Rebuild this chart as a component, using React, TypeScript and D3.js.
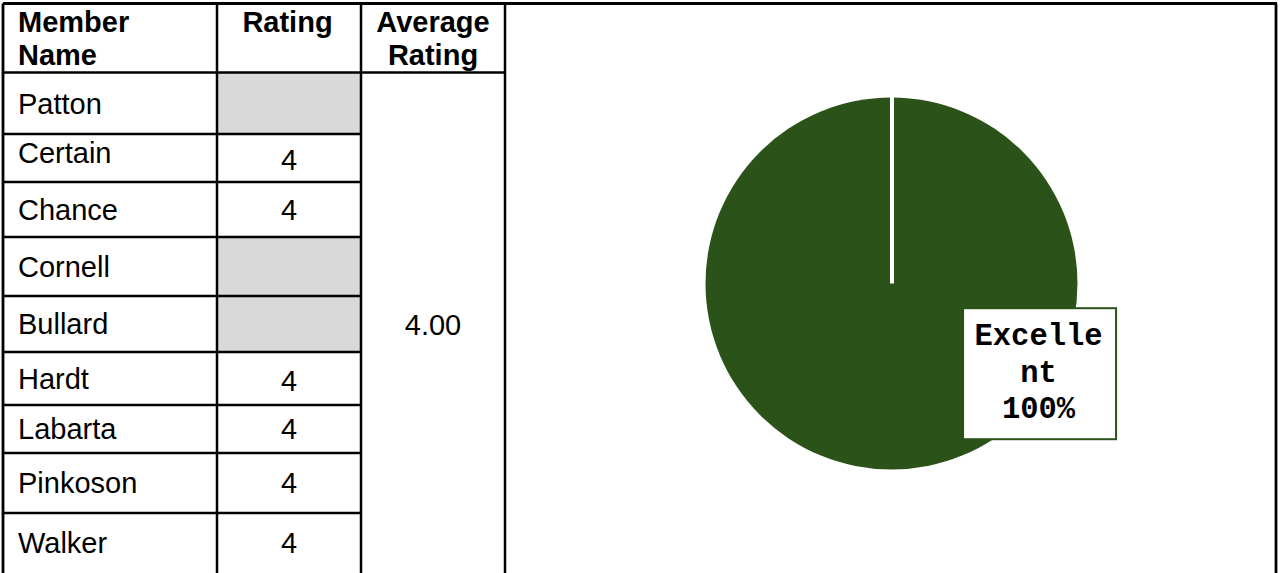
import React from "react";
import * as d3 from "d3";

// Table content
const members = ["Patton", "Certain", "Chance", "Cornell", "Bullard", "Hardt", "Labarta", "Pinkoson", "Walker"];
const ratings: (number | null)[] = [null, 4, 4, null, null, 4, 4, 4, 4];
const headers = [["Member", "Name"], ["Rating"], ["Average", "Rating"]];

// Pie content
const ratingCategories = ["Excellent"];
const categoryShares = [100];

// Layout
const W = 1281;
const H = 573;
const colX = [3, 217, 361, 505, 1276];
const headerTop = 3.5;
const rowEdges = [72.5, 134, 182, 237, 296, 352, 405, 453, 513, 600];
const nameShift = [0, -5, 0, 0, 0, 0, 0, 0, 0];
const valueShift = [0, 2, 0, 0, 0, 2, 0, 0, 0];
const FONT = "'Liberation Sans', Arial, Helvetica, sans-serif";
const MONO = "'Courier New', 'Liberation Mono', Courier, monospace";
const GREEN = "#2b5219";

function wrapChunks(s: string, n: number): string[] {
  const out: string[] = [];
  for (let i = 0; i < s.length; i += n) out.push(s.slice(i, i + n));
  return out;
}

export default function App() {
  const rated = ratings.filter((r): r is number => r != null);
  const avg = d3.mean(rated) ?? 0;

  const rowMid = (i: number) => {
    const bottom = Math.min(rowEdges[i + 1], H);
    return (rowEdges[i] + bottom) / 2;
  };

  // Pie geometry
  const cx = 891.5;
  const cy = 283.5;
  const r = 186;
  const pie = d3.pie<number>().sort(null).value((d) => d);
  const arcs = pie(categoryShares);
  const arcGen = d3.arc<d3.PieArcDatum<number>>().innerRadius(0).outerRadius(r);
  const total = d3.sum(categoryShares);

  const boxW = 153;
  const boxH = 131;
  const boxCx = cx + r * 0.796;
  const boxCy = cy + r * 0.485;

  const lineColor = "#000";

  return (
    <div style={{ position: "absolute", left: 0, top: 0 }}>
      <svg width={W} height={H} style={{ display: "block", background: "#fff" }}>
        {/* grey cells for missing ratings */}
        {ratings.map((v, i) =>
          v == null ? (
            <rect
              key={"g" + i}
              x={colX[1]}
              y={rowEdges[i]}
              width={colX[2] - colX[1]}
              height={rowEdges[i + 1] - rowEdges[i]}
              fill="#d9d9d9"
            />
          ) : null
        )}

        {/* grid lines */}
        <g stroke={lineColor} strokeWidth={2.5} fill="none">
          <line x1={colX[0]} x2={colX[4] + 1} y1={headerTop} y2={headerTop} strokeWidth={2.8} />
          {colX.map((x, i) => (
            <line key={"v" + i} x1={x} x2={x} y1={headerTop} y2={H} strokeWidth={i === 0 || i === 4 ? 2.8 : 2.5} />
          ))}
          <line x1={colX[0]} x2={colX[3]} y1={rowEdges[0]} y2={rowEdges[0]} />
          {rowEdges.slice(1, -1).map((y, i) => (
            <line key={"h" + i} x1={colX[0]} x2={colX[2]} y1={y} y2={y} />
          ))}
        </g>

        {/* headers */}
        <g fontFamily={FONT} fontWeight="bold" fontSize={29} fill="#000">
          {headers.map((lines, c) =>
            lines.map((t, k) => (
              <text
                key={c + "-" + k}
                x={c === 0 ? 18 : (colX[c] + colX[c + 1]) / 2 - (c === 1 ? 1.5 : 0)}
                y={31.5 + k * 33.5}
                textAnchor={c === 0 ? "start" : "middle"}
              >
                {t}
              </text>
            ))
          )}
        </g>

        {/* member rows */}
        <g fontFamily={FONT} fontSize={29} fill="#000">
          {members.map((m, i) => (
            <text key={"n" + i} x={18} y={rowMid(i) + 10.4 + nameShift[i]}>
              {m}
            </text>
          ))}
          {ratings.map((v, i) =>
            v == null ? null : (
              <text
                key={"r" + i}
                x={(colX[1] + colX[2]) / 2}
                y={rowMid(i) + 10.4 + valueShift[i]}
                textAnchor="middle"
              >
                {v}
              </text>
            )
          )}
          <text x={(colX[2] + colX[3]) / 2} y={335} textAnchor="middle">
            {d3.format(".2f")(avg)}
          </text>
        </g>

        {/* pie */}
        <g transform={`translate(${cx},${cy})`}>
          {arcs.map((a, i) => (
            <path key={"s" + i} d={arcGen(a) ?? ""} fill={GREEN} />
          ))}
          {arcs.map((a, i) => (
            <line
              key={"b" + i}
              x1={0}
              y1={0}
              x2={Math.sin(a.startAngle) * (r + 1)}
              y2={-Math.cos(a.startAngle) * (r + 1)}
              stroke="#fff"
              strokeWidth={4}
              transform="translate(0.5,0)"
            />
          ))}
        </g>

        {/* data label */}
        {arcs.map((a, i) => {
          const lines = [
            ...wrapChunks(ratingCategories[i], 7),
            d3.format(".0%")(a.value / total),
          ];
          return (
            <g key={"l" + i}>
              <rect
                x={boxCx - boxW / 2}
                y={boxCy - boxH / 2}
                width={boxW}
                height={boxH}
                fill="#fff"
                stroke={GREEN}
                strokeWidth={2}
              />
              {lines.map((t, k) => (
                <text
                  key={k}
                  x={boxCx - 1}
                  y={345 + k * 36.5}
                  textAnchor="middle"
                  fontFamily={MONO}
                  fontWeight="bold"
                  fontSize={30.5}
                  fill="#000"
                >
                  {t}
                </text>
              ))}
            </g>
          );
        })}
      </svg>
    </div>
  );
}
